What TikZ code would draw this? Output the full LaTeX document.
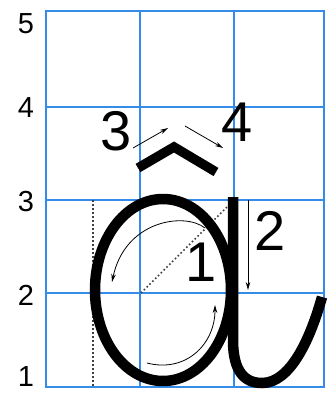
\documentclass[tikz,border=0pt]{standalone}
\usepackage{fontspec}
\setmainfont{Liberation Sans}
\usetikzlibrary{arrows.meta}
\definecolor{gridblue}{RGB}{52,140,232}
\begin{document}
\begin{tikzpicture}[x=1pt,y=-1pt,
  gridline/.style={gridblue,line width=2.8pt},
  axislabel/.style={font=\fontsize{29}{31}\selectfont, inner sep=0pt},
  biglabel/.style={font=\fontsize{56}{60}\selectfont, inner sep=0pt},
  letterstroke/.style={black, line width=10.5pt},
  guide/.style={black!75, dash pattern=on 1.6pt off 2.4pt, line width=1.6pt},
  hint/.style={black, line width=0.8pt, -{Stealth[length=8pt,width=4.5pt]}}]
\fill[white] (0,0) rectangle (328,394);
\useasboundingbox (0,0) rectangle (328,394);
% grid
\foreach \x in {46,140,234,324} \draw[gridline] (\x,11) -- (\x,387);
\foreach \y in {11,107,200,293,387} \draw[gridline] (44.6,\y) -- (325.4,\y);
% axis labels
\node[axislabel] (l5) at (26,24) {5};
\node[axislabel] (l4) at (26,108) {4};
\node[axislabel] (l3) at (26,202) {3};
\node[axislabel] (l2) at (26,295) {2};
\node[axislabel] (l1) at (26,377) {1};
% guides
\coordinate (gv1) at (93,200);
\coordinate (gv2) at (93,387);
\coordinate (gd1) at (141,293);
\coordinate (gd2) at (231,203);
\draw[guide] (gv1) -- (gv2);
\draw[guide] (gd1) -- (gd2);
% letter
\draw[letterstroke] (163,290) ellipse [x radius=68pt, y radius=91pt];
\draw[letterstroke] (233,197) -- (233,340) .. controls (233,372) and (245,383) .. (262,383) .. controls (290,383) and (310,340) .. (322,297);
% circumflex
\draw[letterstroke, line width=9.5pt, miter limit=10] (138,168) -- (174,147) -- (216,172);
% numbers
\node[biglabel] (n3) at (116,131) {3};
\node[biglabel] (n4) at (237,122) {4};
\node[biglabel] (n2) at (270,231) {2};
\node[biglabel] (n1) at (201,262) {1};
% hint arrows
\coordinate (a3s) at (133,148); \coordinate (a3e) at (168,128);
\coordinate (a4s) at (185,126); \coordinate (a4e) at (223,148);
\coordinate (a2s) at (248,200); \coordinate (a2e) at (248,290);
\coordinate (aus) at (205,228); \coordinate (aue) at (112,282);
\coordinate (als) at (147,363); \coordinate (ale) at (215,305);
\draw[hint] (a3s) -- (a3e);
\draw[hint] (a4s) -- (a4e);
\draw[hint] (a2s) -- (a2e);
\draw[hint] (aus) .. controls (185,212) and (125,220) .. (aue);
\draw[hint] (als) .. controls (185,373) and (215,345) .. (ale);
\end{tikzpicture}
\end{document}
